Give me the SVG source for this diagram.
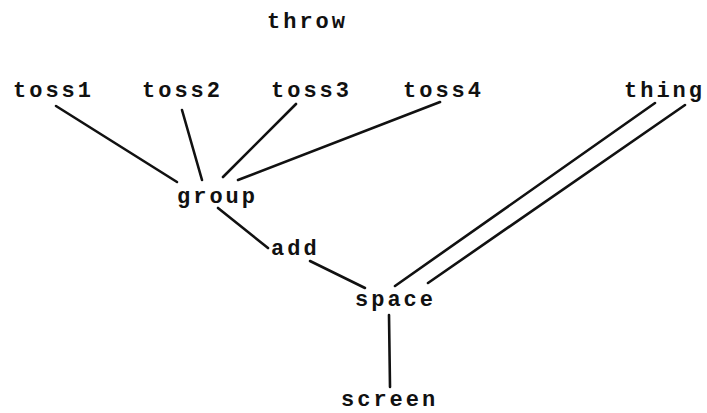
<svg xmlns="http://www.w3.org/2000/svg" width="707" height="413" viewBox="0 0 707 413">
<style>
text{font-family:"Liberation Mono","DejaVu Sans Mono",monospace;font-size:22px;font-weight:bold;letter-spacing:3px;fill:#111}
.c line{stroke:#111;stroke-width:2.6;stroke-linecap:round}
</style>
<rect width="707" height="413" fill="#fff"/>
<g class="c" id="connectors">
<line x1="56" y1="106" x2="177" y2="182"/>
<line x1="182" y1="110" x2="202" y2="180"/>
<line x1="296" y1="104" x2="223" y2="177"/>
<line x1="440" y1="102" x2="238" y2="180"/>
<line x1="218" y1="208" x2="268" y2="248"/>
<line x1="310" y1="261" x2="365" y2="288"/>
<line x1="655" y1="103" x2="395" y2="286"/>
<line x1="685" y1="105" x2="428" y2="283"/>
<line x1="389" y1="315" x2="390" y2="387"/>
</g>
<g id="throw"><text x="267" y="28">throw</text></g>
<g id="toss1"><text x="13" y="97">toss1</text></g>
<g id="toss2"><text x="142" y="97">toss2</text></g>
<g id="toss3"><text x="271" y="97">toss3</text></g>
<g id="toss4"><text x="403" y="97">toss4</text></g>
<g id="thing"><text x="624" y="97">thing</text></g>
<g id="group"><text x="177" y="203">group</text></g>
<g id="add"><text x="271" y="255">add</text></g>
<g id="space"><text x="355" y="306">space</text></g>
<g id="screen"><text x="341" y="406">screen</text></g>
</svg>
